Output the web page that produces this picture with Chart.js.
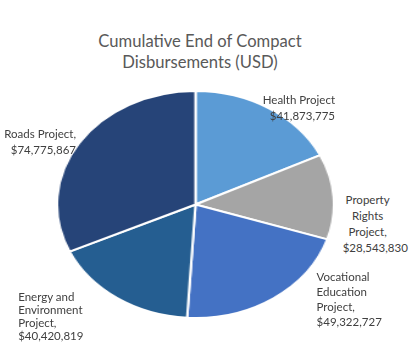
<!DOCTYPE html>
<html>
<head>
<meta charset="utf-8">
<script src="https://cdn.jsdelivr.net/npm/chart.js@4"></script>
<style>
  body { margin: 0; background: #fff; font-family: Lato, "Noto Sans", sans-serif; }
  #stage { position: relative; width: 419px; height: 353px; overflow: hidden; }
  #title { position: absolute; left: 0; top: 31px; width: 400px; text-align: center;
           font-size: 16.6px; line-height: 21px; color: #595959; }
  #pieWrap { position: absolute; left: 81px; top: 90px; width: 229px; height: 229px;
             transform: scaleX(1.22); transform-origin: 50% 50%; }
  .lbl { position: absolute; font-size: 11.5px; color: #404040; white-space: normal; }
</style>
</head>
<body>
<div id="stage">
  <div id="title">Cumulative End of Compact<br>Disbursements (USD)</div>
  <div id="pieWrap"><canvas id="pie" width="229" height="229"></canvas></div>
</div>
<script>
var projects = ['Health Project', 'Property Rights Project', 'Vocational Education Project', 'Energy and Environment Project', 'Roads Project'];
var disbursed = [41873775, 28543830, 49322727, 40420819, 74775867];
var colors = ['#5B9BD5', '#A5A5A5', '#4472C4', '#255E91', '#264478'];

// label layout: offset from the slice's rim midpoint, alignment, wrap width
var labelLayout = [
  { dx: 66, dy: -16, align: 'right', width: 90, lh: 16 },
  { dx: 34, dy: -5, align: 'center', width: 50, lh: 16 },
  { dx: 43, dy: -29, align: 'left', width: 62, lh: 15 },
  { dx: -99, dy: -8, align: 'left', width: 78, lh: 13 },
  { dx: -3, dy: -17, align: 'right', width: 100, lh: 16 }
];
var stretchX = 1.22;

var pieChart = new Chart(document.getElementById('pie'), {
  type: 'pie',
  data: {
    labels: projects,
    datasets: [{
      data: disbursed,
      backgroundColor: colors,
      borderColor: '#ffffff',
      borderWidth: 2
    }]
  },
  options: {
    responsive: false,
    animation: false,
    events: [],
    layout: { padding: 0 },
    plugins: {
      legend: { display: false },
      tooltip: { enabled: false }
    }
  }
});

function money(v) {
  return '$' + v.toLocaleString('en-US');
}

var wrap = document.getElementById('pieWrap');
var stage = document.getElementById('stage');
var meta = pieChart.getDatasetMeta(0);
meta.data.forEach(function (arc, i) {
  var mid = (arc.startAngle + arc.endAngle) / 2;
  var rimX = arc.x + Math.cos(mid) * arc.outerRadius;
  var rimY = arc.y + Math.sin(mid) * arc.outerRadius;
  // canvas coords -> page coords (wrapper is scaled about its centre)
  var px = wrap.offsetLeft + 114.5 + (rimX - 114.5) * stretchX;
  var py = wrap.offsetTop + rimY;
  var lay = labelLayout[i];
  var el = document.createElement('div');
  el.className = 'lbl';
  el.style.width = lay.width + 'px';
  el.style.lineHeight = lay.lh + 'px';
  el.style.textAlign = lay.align;
  var sep = i === 0 ? '' : ',';
  el.innerHTML = projects[i] + sep + '<br>' + money(disbursed[i]);
  var left = px + lay.dx;
  if (lay.align === 'right') left -= lay.width;
  if (lay.align === 'center') left -= lay.width / 2;
  el.style.left = left + 'px';
  el.style.top = (py + lay.dy) + 'px';
  stage.appendChild(el);
});
</script>
</body>
</html>
